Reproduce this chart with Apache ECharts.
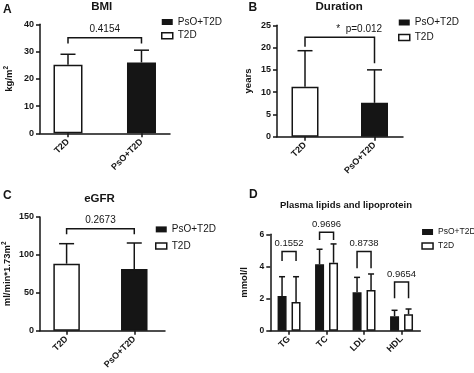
<!DOCTYPE html>
<html><head><meta charset="utf-8">
<script src="https://cdn.jsdelivr.net/npm/echarts@6/dist/echarts.min.js"></script>
<style>html,body{margin:0;padding:0;background:#fff}#c{width:474px;height:373px}</style>
</head><body><div id="c"></div>
<script>
// ---------- data ----------
const groups = ['T2D', 'PsO+T2D'];
const bmiMean = [25.2, 26.0];
const bmiSD = [3.8, 4.5];
const durMean = [11.2, 7.6];
const durSD = [8.1, 7.4];
const egfrMean = [88.4, 81.4];
const egfrSD = [26.4, 34.3];
const bmiTicks = [0, 10, 20, 30, 40];
const durTicks = [0, 5, 10, 15, 20, 25];
const egfrTicks = [0, 50, 100, 150];
const lipidCats = ['TG', 'TC', 'LDL', 'HDL'];
const lipidPsoMean = [2.16, 4.13, 2.39, 0.90];
const lipidPsoSD = [1.20, 0.94, 0.93, 0.37];
const lipidT2dMean = [1.79, 4.23, 2.53, 1.02];
const lipidT2dSD = [1.57, 1.17, 1.00, 0.33];
const lipidTicks = [0, 2, 4, 6];
// comparison brackets: [top, left leg end, right leg end]
const bmiBracket = [35.1, 33.0, 33.0];
const bmiP = '0.4154';
const durBracket = [22.3, 20.2, 16.5];
const durP = '*  p=0.012';
const egfrBracket = [134.6, 127.2, 127.2];
const egfrP = '0.2673';
const lipidBracketTop = [4.93, 6.12, 4.93, 3.03];
const lipidBracketLeg = [4.34, 5.65, 3.89, 2.02];
const lipidP = ['0.1552', '0.9696', '0.8738', '0.9654'];

// ---------- styles ----------
const FF = '"Liberation Sans", Arial, sans-serif';
const INK = '#151515';
const LW = 1.5;
const whiteBar = { color: '#fff', borderColor: INK, borderWidth: LW };
const blackBar = { color: INK, borderColor: INK, borderWidth: LW };

const chart = echarts.init(document.getElementById('c'), null, { renderer: 'canvas' });

function errItem(capHalf, dx) {
  return function (params, api) {
    const x = api.value(0), m = api.value(1), s = api.value(2);
    const p0 = api.coord([x, m]), p1 = api.coord([x, m + s]);
    const cx = p0[0] + dx;
    return { type: 'group', children: [
      { type: 'line', shape: { x1: cx, y1: p0[1], x2: cx, y2: p1[1] }, style: { stroke: INK, lineWidth: LW } },
      { type: 'line', shape: { x1: cx - capHalf, y1: p1[1], x2: cx + capHalf, y2: p1[1] }, style: { stroke: INK, lineWidth: LW } }
    ] };
  };
}
function bracketItem(labels, dxL, dxR, labelDx, align, fontSize) {
  return function (params, api) {
    const xL = api.value(0), xR = api.value(1), top = api.value(2), legL = api.value(3), legR = api.value(4);
    const a = api.coord([xL, top]), b = api.coord([xR, top]);
    const la = api.coord([xL, legL]), lb = api.coord([xR, legR]);
    const x1 = a[0] + dxL, x2 = b[0] + dxR;
    return { type: 'group', children: [
      { type: 'polyline', shape: { points: [[x1, la[1]], [x1, a[1]], [x2, b[1]], [x2, lb[1]]] },
        style: { stroke: INK, lineWidth: LW, fill: null } },
      { type: 'text', style: { text: labels[params.dataIndex], x: (x1 + x2) / 2 + labelDx, y: a[1] - 3,
        fill: INK, font: fontSize + 'px ' + FF, align: align, textAlign: align,
        verticalAlign: 'bottom', textVerticalAlign: 'bottom' } }
    ] };
  };
}

const grids = [
  { left: 40, top: 24.3, width: 130, height: 109 },
  { left: 277, top: 25.3, width: 126, height: 111.4 },
  { left: 39, top: 217, width: 126, height: 113.7 },
  { left: 270.3, top: 234.3, width: 150, height: 96.4 }
];
const xRanges = [[0.619, 2.388], [0.597, 2.41], [0.607, 2.454]];

function valueX(i) {
  return {
    type: 'value', gridIndex: i, min: xRanges[i][0], max: xRanges[i][1],
    splitLine: { show: false },
    axisLine: { show: true, onZero: false, lineStyle: { color: INK, width: LW } },
    axisTick: { show: true, length: 4, customValues: [1, 2], lineStyle: { color: INK, width: LW } },
    axisLabel: { customValues: [1, 2], rotate: 45, margin: 7, color: INK, fontFamily: FF, fontWeight: 'bold', fontSize: 9,
      formatter: v => groups[Math.round(v) - 1] }
  };
}
function valueY(i, ticks, name, gap, fs) {
  return {
    type: 'value', gridIndex: i, min: ticks[0], max: ticks[ticks.length - 1], interval: ticks[1] - ticks[0],
    splitLine: { show: false },
    axisLine: { show: true, lineStyle: { color: INK, width: LW } },
    axisTick: { show: true, length: 4, lineStyle: { color: INK, width: LW } },
    axisLabel: { margin: 6, color: INK, fontFamily: FF, fontWeight: 'bold', fontSize: fs },
    name: name, nameLocation: 'middle', nameRotate: 90, nameGap: gap,
    nameTextStyle: { color: INK, fontFamily: FF, fontWeight: 'bold', fontSize: 9.5,
      rich: { a: { fontFamily: FF, fontWeight: 'bold', fontSize: 9.5, color: INK, lineHeight: 12 },
              s: { fontFamily: FF, fontWeight: 'bold', fontSize: 6.5, color: INK, lineHeight: 7, verticalAlign: 'top' } } }
  };
}

function panelSeries(i, mean, sd, bw, bracket, pLabel, labelDx, align, capHalf) {
  return [
    { name: 'T2D', type: 'bar', xAxisIndex: i, yAxisIndex: i, barWidth: bw, barGap: '-100%',
      data: [[1, mean[0]]], itemStyle: whiteBar, z: 2 },
    { name: 'PsO+T2D', type: 'bar', xAxisIndex: i, yAxisIndex: i, barWidth: bw, barGap: '-100%',
      data: [[2, mean[1]]], itemStyle: blackBar, z: 2 },
    { type: 'custom', xAxisIndex: i, yAxisIndex: i, clip: false, z: 3,
      renderItem: errItem(capHalf, 0), data: [[1, mean[0], sd[0]], [2, mean[1], sd[1]]] },
    { type: 'custom', xAxisIndex: i, yAxisIndex: i, clip: false, z: 3,
      renderItem: bracketItem([pLabel], 0, 0, labelDx, align, 10),
      data: [[1, 2, bracket[0], bracket[1], bracket[2]]] }
  ];
}

const series = [].concat(
  panelSeries(0, bmiMean, bmiSD, 29, bmiBracket, bmiP, 0, 'center', 7.5),
  panelSeries(1, durMean, durSD, 27, durBracket, durP, -3.5, 'left', 7.5),
  panelSeries(2, egfrMean, egfrSD, 26.5, egfrBracket, egfrP, 0, 'center', 7.5),
  [
    { name: 'PsO+T2D', type: 'bar', xAxisIndex: 3, yAxisIndex: 3, barWidth: 9, barGap: '55%',
      data: lipidPsoMean, itemStyle: blackBar, z: 2 },
    { name: 'T2D', type: 'bar', xAxisIndex: 3, yAxisIndex: 3, barWidth: 9, barGap: '55%',
      data: lipidT2dMean, itemStyle: whiteBar, z: 2 },
    { type: 'custom', xAxisIndex: 3, yAxisIndex: 3, clip: false, z: 3, renderItem: errItem(3, -7),
      data: lipidPsoMean.map((m, k) => [k, m, lipidPsoSD[k]]) },
    { type: 'custom', xAxisIndex: 3, yAxisIndex: 3, clip: false, z: 3, renderItem: errItem(3, 7),
      data: lipidT2dMean.map((m, k) => [k, m, lipidT2dSD[k]]) },
    { type: 'custom', xAxisIndex: 3, yAxisIndex: 3, clip: false, z: 3,
      renderItem: bracketItem(lipidP, -7, 7, 0, 'center', 9.5),
      data: lipidCats.map((c, k) => [k, k, lipidBracketTop[k], lipidBracketLeg[k], lipidBracketLeg[k]]) }
  ]
);

function legendAt(left, top, gap, fs, textGap) {
  return {
    orient: 'vertical', left: left, top: top, itemWidth: 11, itemHeight: 6, itemGap: gap, itemTextGap: textGap,
    selectedMode: false, padding: 0,
    textStyle: { color: INK, fontFamily: FF, fontSize: fs, lineHeight: 12 },
    data: [
      { name: 'PsO+T2D', icon: 'rect', itemStyle: { color: INK, borderColor: INK, borderWidth: 0 } },
      { name: 'T2D', icon: 'rect', itemStyle: { color: '#fff', borderColor: INK, borderWidth: LW } }
    ]
  };
}

function txt(x, y, s, size, align) {
  return { type: 'text', x: x, y: y, style: { text: s, fill: INK, font: 'bold ' + size + 'px ' + FF,
    align: align || 'left', textAlign: align || 'left', verticalAlign: 'middle', textVerticalAlign: 'middle' } };
}

chart.setOption({
  backgroundColor: '#fff',
  animation: false,
  grid: grids,
  xAxis: [valueX(0), valueX(1), valueX(2), {
    type: 'category', gridIndex: 3, data: lipidCats, boundaryGap: true,
    axisLine: { show: true, lineStyle: { color: INK, width: LW } },
    axisTick: { show: true, length: 4, alignWithLabel: true, interval: 0, lineStyle: { color: INK, width: LW } },
    axisLabel: { rotate: 45, margin: 7, interval: 0, color: INK, fontFamily: FF, fontWeight: 'bold', fontSize: 9 }
  }],
  yAxis: [
    valueY(0, bmiTicks, '{a|kg/m}{s|2}', 25, 9),
    valueY(1, durTicks, '{a|years}', 23, 9),
    valueY(2, egfrTicks, '{a|ml/min*1.73m}{s|2}', 27, 9),
    valueY(3, lipidTicks, '{a|mmol/l}', 20, 8.5)
  ],
  legend: [legendAt(161, 16, 1.7, 10, 3), legendAt(398, 16.5, 3, 10, 3), legendAt(155, 223.4, 4.7, 10, 6),
           legendAt(421.3, 226, 2, 8.5, 3)],
  graphic: [
    txt(3, 9.5, 'A', 12), txt(248.5, 8, 'B', 12), txt(3, 196, 'C', 12), txt(249, 195, 'D', 12),
    txt(101.7, 7.3, 'BMI', 11.5, 'center'), txt(339.2, 7.3, 'Duration', 11.5, 'center'),
    txt(99.5, 199, 'eGFR', 11.5, 'center'), txt(346, 205.6, 'Plasma lipids and lipoprotein', 9.5, 'center')
  ],
  series: series
});
</script></body></html>
